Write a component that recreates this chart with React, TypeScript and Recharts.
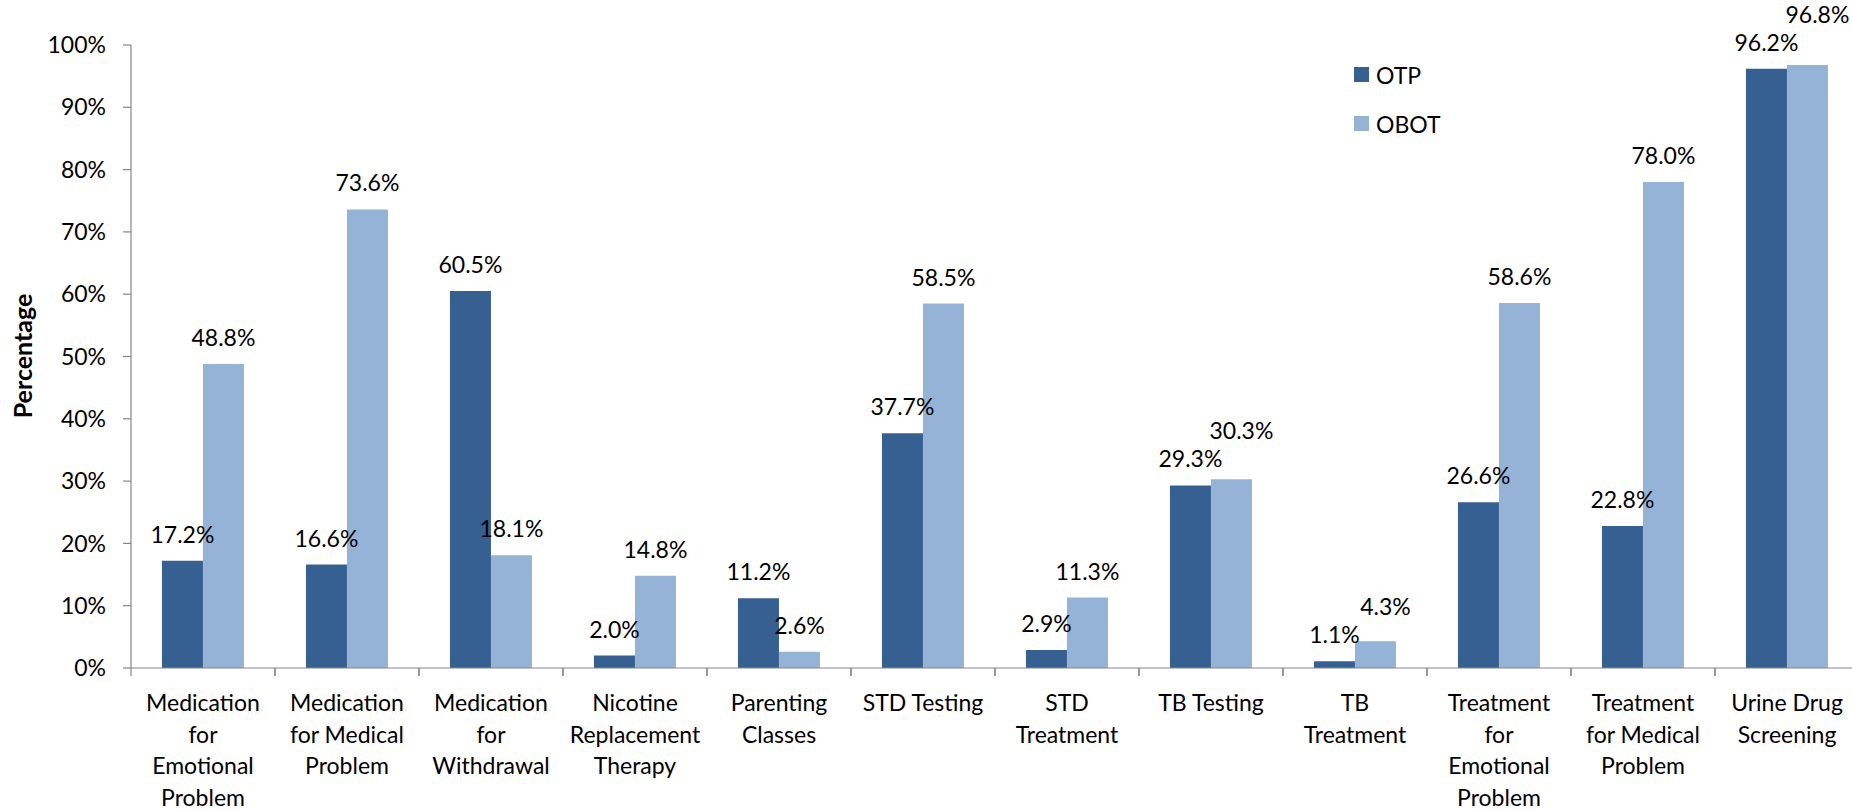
import React from 'react';
import { BarChart, Bar, XAxis, YAxis, Legend, LabelList, Label } from 'recharts';

const categoryLabels: string[][] = [
  ['Medication', 'for', 'Emotional', 'Problem'],
  ['Medication', 'for Medical', 'Problem'],
  ['Medication', 'for', 'Withdrawal'],
  ['Nicotine', 'Replacement', 'Therapy'],
  ['Parenting', 'Classes'],
  ['STD Testing'],
  ['STD', 'Treatment'],
  ['TB Testing'],
  ['TB', 'Treatment'],
  ['Treatment', 'for', 'Emotional', 'Problem'],
  ['Treatment', 'for Medical', 'Problem'],
  ['Urine Drug', 'Screening'],
];
const categories = categoryLabels.map((l) => l.join(' '));
const seriesNames = ['OTP', 'OBOT'];
const otpValues = [17.2, 16.6, 60.5, 2.0, 11.2, 37.7, 2.9, 29.3, 1.1, 26.6, 22.8, 96.2];
const obotValues = [48.8, 73.6, 18.1, 14.8, 2.6, 58.5, 11.3, 30.3, 4.3, 58.6, 78.0, 96.8];
const yTicks = [0, 10, 20, 30, 40, 50, 60, 70, 80, 90, 100];

const data = categories.map((c, i) => ({ category: c, OTP: otpValues[i], OBOT: obotValues[i] }));

const FONT = 'Lato, "Open Sans", sans-serif';
const AXIS = '#868686';
const OTP_COLOR = '#376092';
const OBOT_COLOR = '#95B3D7';
const LABEL_GAP = 27;
const LABEL_MIN_SEP = 28;

const XTick = (props: any) => {
  const { x, y, payload } = props;
  const lines = categoryLabels[payload.index] ?? [String(payload.value)];
  const half = payload.offset ?? 72;
  return (
    <g>
      <line x1={x - half} x2={x - half} y1={y} y2={y + 8} stroke={AXIS} strokeWidth={1.2} />
      <line x1={x + half} x2={x + half} y1={y} y2={y + 8} stroke={AXIS} strokeWidth={1.2} />
      {lines.map((ln, i) => (
        <text key={i} x={x} y={y + 43 + i * 31.7} textAnchor="middle" fill="#000" fontSize={23} fontFamily={FONT}>
          {ln}
        </text>
      ))}
    </g>
  );
};

const OtpLabel = (props: any) => {
  const { x, y, width, value } = props;
  return (
    <text x={x + width / 2} y={y - LABEL_GAP} textAnchor="middle" dominantBaseline="central" fill="#000" fontSize={23} fontFamily={FONT}>
      {Number(value).toFixed(1)}%
    </text>
  );
};

// OBOT label: placed above its bar, but lifted when it would collide with the OTP label beside it
const ObotLabel = (props: any) => {
  const { x, y, width, height, value, index } = props;
  let ly = y - LABEL_GAP;
  let dx = 0;
  const v = Number(value);
  const otp = otpValues[index];
  if (v > 0 && height > 0 && otp != null) {
    const pxPerUnit = height / v;
    const base = y + height;
    const otpLabelY = base - otp * pxPerUnit - LABEL_GAP;
    if (Math.abs(ly - otpLabelY) < LABEL_MIN_SEP) {
      ly = otpLabelY - LABEL_MIN_SEP;
      dx = 10;
    }
  }
  return (
    <text x={x + width / 2 + dx} y={ly} textAnchor="middle" dominantBaseline="central" fill="#000" fontSize={23} fontFamily={FONT}>
      {v.toFixed(1)}%
    </text>
  );
};

const LegendContent = (props: any) => {
  const { payload } = props;
  const items = seriesNames
    .map((n) => (payload || []).find((p: any) => p.value === n))
    .filter(Boolean);
  return (
    <div style={{ fontFamily: FONT, fontSize: 23, color: '#000' }}>
      {items.map((p: any) => (
        <div key={p.value} style={{ display: 'flex', alignItems: 'center', height: 49 }}>
          <span style={{ display: 'inline-block', width: 15, height: 15, background: p.color, marginRight: 7 }} />
          <span>{p.value}</span>
        </div>
      ))}
    </div>
  );
};

export default function App() {
  return (
    <div style={{ position: 'absolute', left: 0, top: 0, width: 1852, height: 810, overflow: 'hidden', background: '#fff' }}>
      <BarChart
        width={1870}
        height={810}
        data={data}
        margin={{ top: 45, right: 11, left: 0, bottom: 0 }}
        barCategoryGap="21.5%"
        barGap={0}
      >
        <XAxis
          dataKey="category"
          height={142}
          interval={0}
          tickLine={false}
          tickSize={0}
          tickMargin={0}
          axisLine={{ stroke: AXIS, strokeWidth: 1.2 }}
          tick={<XTick />}
        />
        <YAxis
          width={131}
          domain={[0, 100]}
          ticks={yTicks}
          interval={0}
          tickFormatter={(v: number) => `${v}%`}
          tickSize={8}
          tickMargin={17}
          tickLine={{ stroke: AXIS, strokeWidth: 1.2 }}
          axisLine={{ stroke: AXIS, strokeWidth: 1.2 }}
          tick={{ fill: '#000', fontSize: 23, fontFamily: FONT }}
        >
          <Label
            content={() => (
              <text
                x={22}
                y={356}
                transform="rotate(-90 22 356)"
                textAnchor="middle"
                dominantBaseline="central"
                fontWeight="bold"
                fontSize={25}
                fontFamily={FONT}
                fill="#000"
              >
                Percentage
              </text>
            )}
          />
        </YAxis>
        <Legend
          layout="vertical"
          align="center"
          verticalAlign="middle"
          content={<LegendContent />}
          wrapperStyle={{ position: 'absolute', left: 1354, top: 50, width: 160 }}
        />
        <Bar dataKey="OTP" name="OTP" fill={OTP_COLOR} isAnimationActive={false}>
          <LabelList dataKey="OTP" content={<OtpLabel />} />
        </Bar>
        <Bar dataKey="OBOT" name="OBOT" fill={OBOT_COLOR} isAnimationActive={false}>
          <LabelList dataKey="OBOT" content={<ObotLabel />} />
        </Bar>
      </BarChart>
    </div>
  );
}
